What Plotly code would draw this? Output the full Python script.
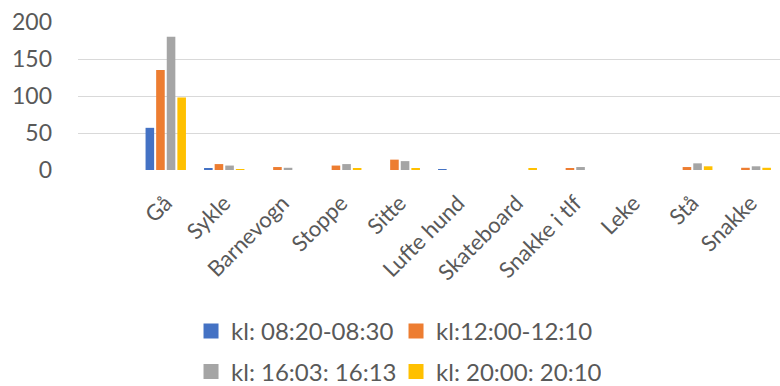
import plotly.graph_objects as go

# Activities observed, counted in four ten-minute windows
categories = ["Gå", "Sykle", "Barnevogn", "Stoppe", "Sitte", "Lufte hund",
              "Skateboard", "Snakke i tlf", "Leke", "Stå", "Snakke"]

series_names = ["kl: 08:20-08:30", "kl:12:00-12:10", "kl: 16:03: 16:13", "kl: 20:00: 20:10"]
kl_0820 = [57, 2, 0, 0, 0, 1, 0, 0, 0, 0, 0]
kl_1200 = [135, 8, 4, 6, 14, 0, 0, 2, 0, 4, 3]
kl_1603 = [180, 6, 3, 8, 12, 0, 0, 4, 0, 9, 5]
kl_2000 = [98, 1, 0, 2, 2, 0, 2, 0, 0, 5, 3]

y_ticks = [0, 50, 100, 150, 200]

colors = ["#4472C4", "#ED7D31", "#A5A5A5", "#FFC000"]
values = [kl_0820, kl_1200, kl_1603, kl_2000]

FONT = "Lato"
TEXT = "#595959"

fig = go.Figure()
for name, vals, col in zip(series_names, values, colors):
    fig.add_trace(go.Bar(x=categories, y=vals, name=name, marker_color=col,
                         marker_line_width=0, showlegend=False))

# Legend entries with square swatches, split over two rows
for i, (name, col) in enumerate(zip(series_names, colors)):
    fig.add_trace(go.Scatter(x=[None], y=[None], mode="markers", name=name,
                             marker=dict(symbol="square", size=15, color=col),
                             legend="legend" if i < 2 else "legend2"))

legend_common = dict(orientation="h", xanchor="left", yanchor="middle",
                     font=dict(family=FONT, size=24, color=TEXT),
                     entrywidth=160, itemwidth=30, bgcolor="rgba(0,0,0,0)")

fig.update_layout(
    width=780, height=386,
    margin=dict(l=78, r=0, t=22, b=216, autoexpand=False),
    paper_bgcolor="white", plot_bgcolor="white",
    barmode="group", bargap=0.275, bargroupgap=0.19,
    legend=dict(x=0.161, y=-1.09, **legend_common),
    legend2=dict(x=0.161, y=-1.365, **legend_common),
    xaxis=dict(type="category", categoryorder="array", categoryarray=categories,
               range=[-1.5, len(categories) - 0.5], tickangle=-45,
               tickfont=dict(family=FONT, size=22, color=TEXT),
               ticklabelstandoff=15, automargin=False,
               showgrid=False, showline=False, zeroline=False, ticks=""),
    yaxis=dict(range=[0, 200], tickvals=y_ticks, showgrid=True,
               gridcolor="#D9D9D9", gridwidth=1.3, zeroline=False,
               showline=False, ticks="", ticklabelstandoff=25, automargin=False,
               tickfont=dict(family=FONT, size=23, color=TEXT)),
)

fig.write_html("out.html")
